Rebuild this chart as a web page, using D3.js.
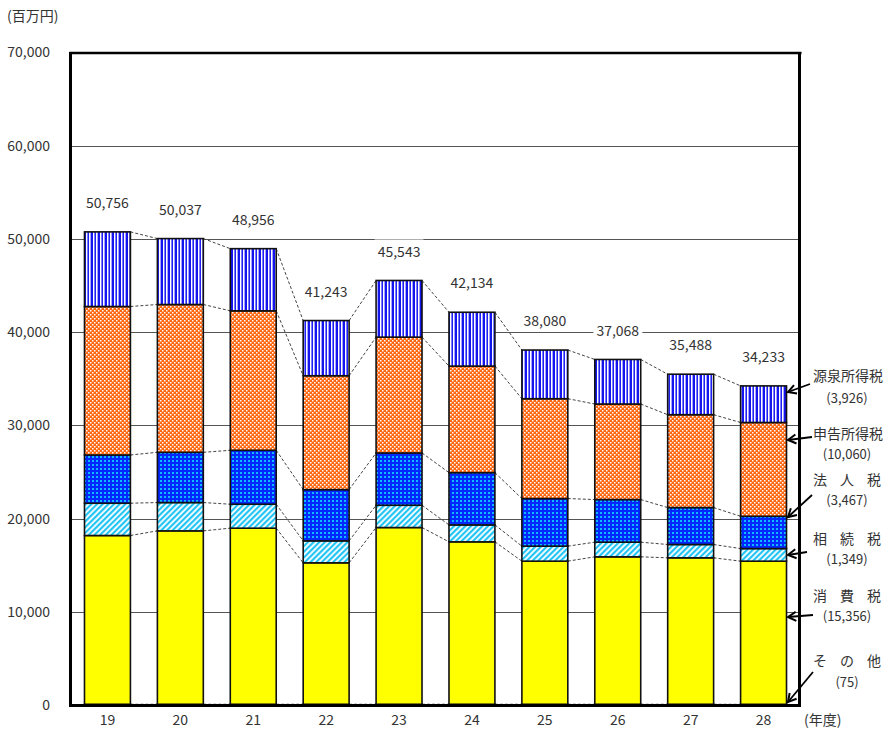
<!DOCTYPE html>
<html>
<head>
<meta charset="utf-8">
<script src="https://cdn.jsdelivr.net/npm/d3@7"></script>
<style>
  html, body { margin: 0; padding: 0; background: #fff; }
  svg { display: block; }
  text { font-family: "Noto Sans CJK JP", "Noto Sans", sans-serif; fill: #333; }
</style>
</head>
<body>
<svg id="chart" width="892" height="748"></svg>
<script>
// ---------------- data ----------------
const years = ["19", "20", "21", "22", "23", "24", "25", "26", "27", "28"];
const totals = [50756, 50037, 48956, 41243, 45543, 42134, 38080, 37068, 35488, 34233];
const sonota = [80, 80, 80, 80, 80, 80, 80, 80, 80, 75];                                   // その他
const shohizei = [18102, 18602, 18888, 15173, 18958, 17424, 15353, 15816, 15710, 15356];  // 消費税
const sozokuzei = [3464, 3036, 2571, 2358, 2391, 1817, 1607, 1572, 1428, 1349];           // 相続税
const hojinzei = [5177, 5392, 5785, 5496, 5610, 5608, 5106, 4573, 3962, 3467];            // 法人税
const shinkoku = [15927, 15855, 14962, 12216, 12426, 11429, 10713, 10247, 9965, 10060];   // 申告所得税
const gensen = [8006, 7072, 6670, 5920, 6078, 5776, 5221, 4780, 4343, 3926];              // 源泉所得税
const yTicks = [0, 10000, 20000, 30000, 40000, 50000, 60000, 70000];
const seriesKeys = ["sonota", "shohizei", "sozokuzei", "hojinzei", "shinkoku", "gensen"];
const legendNames = ["源泉所得税", "申告所得税", "法人税", "相続税", "消費税", "その他"];
const legendValues = ["(3,926)", "(10,060)", "(3,467)", "(1,349)", "(15,356)", "(75)"];

// ---------------- layout ----------------
const svg = d3.select("#chart");
const fmt = d3.format(",");
const plot = { left: 71, right: 800, top: 52.5, bottom: 705 };

const table = years.map((y, i) => ({
  year: y, sonota: sonota[i], shohizei: shohizei[i], sozokuzei: sozokuzei[i],
  hojinzei: hojinzei[i], shinkoku: shinkoku[i], gensen: gensen[i], total: totals[i]
}));

const x = d3.scaleBand().domain(years).range([plot.left, plot.right])
  .paddingInner(0.37).paddingOuter(0.185);
const y = d3.scaleLinear().domain([0, 70000]).range([plot.bottom, plot.top]);
const bw = x.bandwidth();

const stacked = d3.stack().keys(seriesKeys)(table);

// ---------------- patterns ----------------
const defs = svg.append("defs");
// vertical stripes (源泉所得税)
const pS = defs.append("pattern").attr("id", "pStripe").attr("patternUnits", "userSpaceOnUse")
  .attr("width", 7).attr("height", 8);
pS.append("rect").attr("width", 7).attr("height", 8).attr("fill", "#ffffff");
[[0, 2, "#1414ee"], [3, 1, "#7c7cff"], [4, 1, "#2020f0"], [6, 1, "#a4a4ff"]]
  .forEach(([px, w, c]) => pS.append("rect").attr("x", px).attr("width", w).attr("height", 8).attr("fill", c));
// orange checker (申告所得税)
const pO = defs.append("pattern").attr("id", "pOrange").attr("patternUnits", "userSpaceOnUse")
  .attr("width", 4).attr("height", 4);
pO.append("rect").attr("width", 4).attr("height", 4).attr("fill", "#ff6610");
pO.append("rect").attr("x", 0).attr("y", 0).attr("width", 1.5).attr("height", 1.5).attr("fill", "#ffffff");
pO.append("rect").attr("x", 2).attr("y", 2).attr("width", 1.5).attr("height", 1.5).attr("fill", "#ffffff");
// blue checker (法人税)
const pB = defs.append("pattern").attr("id", "pBlue").attr("patternUnits", "userSpaceOnUse")
  .attr("width", 4).attr("height", 4);
pB.append("rect").attr("width", 4).attr("height", 4).attr("fill", "#0028ff");
pB.append("rect").attr("x", 0).attr("y", 0).attr("width", 2).attr("height", 2).attr("fill", "#10b8ff");
// cyan diagonal hatch (相続税)
const pC = defs.append("pattern").attr("id", "pCyan").attr("patternUnits", "userSpaceOnUse")
  .attr("width", 4).attr("height", 4).attr("patternTransform", "rotate(45)");
pC.append("rect").attr("width", 4).attr("height", 4).attr("fill", "#ffffff");
pC.append("rect").attr("width", 2.2).attr("height", 4).attr("fill", "#22c4f4");

const fills = {
  sonota: "#ffffff", shohizei: "#ffff00", sozokuzei: "url(#pCyan)",
  hojinzei: "url(#pBlue)", shinkoku: "url(#pOrange)", gensen: "url(#pStripe)"
};

// ---------------- gridlines ----------------
svg.append("g").selectAll("line").data(yTicks.filter(t => t > 0 && t < 70000)).join("line")
  .attr("x1", plot.left).attr("x2", plot.right)
  .attr("y1", d => Math.round(y(d)) + 0.5).attr("y2", d => Math.round(y(d)) + 0.5)
  .attr("stroke", "#555").attr("stroke-width", 1);

// ---------------- connector (series) lines ----------------
const conn = svg.append("g");
stacked.forEach(s => {
  for (let i = 0; i < years.length - 1; i++) {
    conn.append("line")
      .attr("x1", x(years[i]) + bw).attr("y1", y(s[i][1]))
      .attr("x2", x(years[i + 1])).attr("y2", y(s[i + 1][1]))
      .attr("stroke", "#444").attr("stroke-width", 1).attr("stroke-dasharray", "3,2");
  }
});

// ---------------- bars ----------------
svg.append("g").selectAll("g").data(stacked).join("g")
  .attr("fill", d => fills[d.key])
  .selectAll("rect").data(d => d).join("rect")
  .attr("x", d => x(d.data.year))
  .attr("width", bw)
  .attr("y", d => y(d[1]))
  .attr("height", d => y(d[0]) - y(d[1]))
  .attr("stroke", "#111").attr("stroke-width", 1.6);

// ---------------- total labels ----------------
const lbl = svg.append("g").selectAll("g").data(table).join("g")
  .attr("transform", d => `translate(${x(d.year) + bw / 2},${y(d.total) - 29})`);
lbl.append("rect").attr("fill", "#fff");
lbl.append("text").attr("text-anchor", "middle").attr("dy", "0.36em")
  .attr("font-size", 14).text(d => fmt(d.total));
lbl.each(function () {
  const g = d3.select(this);
  const bb = g.select("text").node().getBBox();
  g.select("rect").attr("x", bb.x - 3).attr("width", bb.width + 6).attr("y", -12).attr("height", 22);
});

// ---------------- frame ----------------
const frame = svg.append("g").attr("stroke", "#000").attr("fill", "none");
frame.append("line").attr("x1", 69.5).attr("x2", 801.5).attr("y1", 53).attr("y2", 53).attr("stroke-width", 2.5);
frame.append("line").attr("x1", 70.5).attr("x2", 70.5).attr("y1", 52).attr("y2", 707).attr("stroke-width", 3);
frame.append("line").attr("x1", 799.5).attr("x2", 799.5).attr("y1", 52).attr("y2", 707).attr("stroke-width", 3);
frame.append("line").attr("x1", 69).attr("x2", 801).attr("y1", 705.5).attr("y2", 705.5).attr("stroke-width", 3);

// ---------------- axes ----------------
const yAxis = svg.append("g").attr("transform", "translate(50,0)")
  .call(d3.axisLeft(y).tickValues(yTicks).tickSize(0).tickPadding(0).tickFormat(fmt));
yAxis.select(".domain").remove();
yAxis.selectAll("text").attr("font-size", 14).style("font-family", "'Noto Sans CJK JP', sans-serif").attr("fill", "#333");

const xAxis = svg.append("g").attr("transform", `translate(0,${plot.bottom})`)
  .call(d3.axisBottom(x).tickSize(0).tickPadding(10));
xAxis.select(".domain").remove();
xAxis.selectAll("text").attr("font-size", 14).style("font-family", "'Noto Sans CJK JP', sans-serif").attr("fill", "#333");

svg.append("text").attr("x", 7).attr("y", 21).attr("font-size", 14).text("(百万円)");
svg.append("text").attr("x", 804).attr("y", 725).attr("font-size", 14).text("(年度)");

// ---------------- legend / annotations ----------------
// layout for the annotation block on the right (pixel positions)
const legendLayout = [
  { ny: 381, vy: 403, ax: 810, ay: 384, ty: 392 },
  { ny: 439, vy: 458.5, ax: 812, ay: 437, ty: 440 },
  { ny: 485, vy: 504.5, ax: 812, ay: 495, ty: 517 },
  { ny: 544, vy: 563.5, ax: 807, ay: 552, ty: 555 },
  { ny: 601, vy: 620.5, ax: 813, ay: 615, ty: 617 },
  { ny: 666, vy: 687, ax: 813, ay: 672, ty: 702 }
];
defs.append("marker").attr("id", "arrowHead").attr("markerUnits", "userSpaceOnUse")
  .attr("markerWidth", 20).attr("markerHeight", 20).attr("refX", 0).attr("refY", 0)
  .attr("viewBox", "-10 -10 20 20").attr("orient", "auto").style("overflow", "visible")
  .append("path").attr("d", "M-8,-4.5 L0,0 L-8,4.5").attr("fill", "none")
  .attr("stroke", "#000").attr("stroke-width", 2);

const tipX = x(years[years.length - 1]) + bw + 1.5;
const leg = svg.append("g");
legendNames.forEach((name, i) => {
  const L = legendLayout[i];
  if (name.length === 3) {
    const chars = Array.from(name);
    chars.forEach((ch, k) => {
      leg.append("text").attr("x", 813 + k * 27).attr("y", L.ny).attr("font-size", 14).text(ch);
    });
  } else {
    leg.append("text").attr("x", 813).attr("y", L.ny).attr("font-size", 14).text(name);
  }
  leg.append("text").attr("x", 847).attr("y", L.vy).attr("font-size", 13)
    .attr("text-anchor", "middle").text(legendValues[i]);
  leg.append("line").attr("x1", L.ax).attr("y1", L.ay).attr("x2", tipX).attr("y2", L.ty)
    .attr("stroke", "#000").attr("stroke-width", 1.8).attr("marker-end", "url(#arrowHead)");
});
</script>
</body>
</html>
